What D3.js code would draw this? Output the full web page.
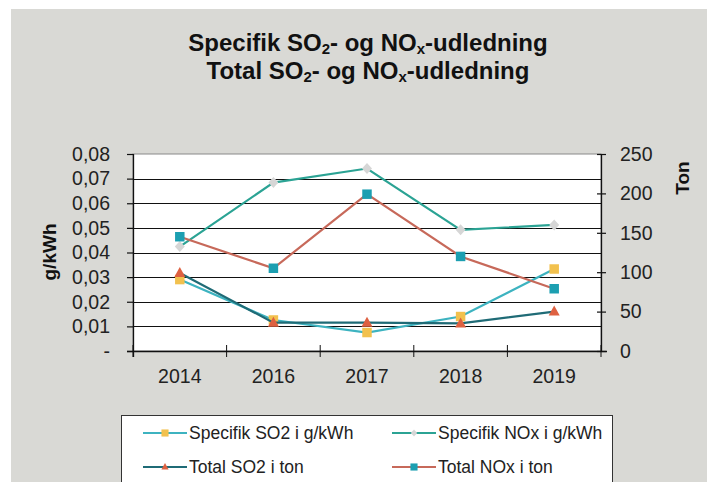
<!DOCTYPE html>
<html>
<head>
<meta charset="utf-8">
<script src="https://cdn.jsdelivr.net/npm/d3@7"></script>
<style>
  body { margin: 0; background: #fff; }
  svg { display: block; font-family: "Liberation Sans", Arial, sans-serif; }
</style>
</head>
<body>
<svg id="chart" width="707" height="482"></svg>
<script>
// chart data
const years = ['2014', '2016', '2017', '2018', '2019'];
const specSO2 = [0.029, 0.0126, 0.0075, 0.014, 0.0333];   // g/kWh
const specNOx = [0.0424, 0.0684, 0.0741, 0.0492, 0.0512]; // g/kWh
const totalSO2 = [99, 36, 36, 35, 50];                    // ton
const totalNOx = [145, 105, 199, 120, 79];                // ton
const leftTicks = [0, 0.01, 0.02, 0.03, 0.04, 0.05, 0.06, 0.07, 0.08];
const rightTicks = [0, 50, 100, 150, 200, 250];

const series = [
  { name: 'Specifik SO2 i g/kWh', values: specSO2, axis: 'left', line: '#3db3c0', marker: 'square', fill: '#f2c14e' },
  { name: 'Specifik NOx i g/kWh', values: specNOx, axis: 'left', line: '#2ba394', marker: 'diamond', fill: '#d6d6d6' },
  { name: 'Total SO2 i ton', values: totalSO2, axis: 'right', line: '#1f6b76', marker: 'triangle', fill: '#de6141' },
  { name: 'Total NOx i ton', values: totalNOx, axis: 'right', line: '#c7695a', marker: 'square', fill: '#1c9fb1' }
];

const svg = d3.select('#chart');

// grey chart area
svg.append('rect').attr('x', 11).attr('y', 9).attr('width', 707 - 11).attr('height', 482 - 9).attr('fill', '#d9d9d5');

const plot = { left: 133, right: 601, top: 154, bottom: 351 };

const x = d3.scaleBand().domain(years).range([plot.left, plot.right]).padding(0);
const yL = d3.scaleLinear().domain([0, 0.08]).range([plot.bottom, plot.top]);
const yR = d3.scaleLinear().domain([0, 250]).range([plot.bottom, plot.top]);

// title, two lines with subscripts
function titleLine(prefix, baseline) {
  const t = svg.append('text').attr('x', 368).attr('y', baseline).attr('text-anchor', 'middle')
    .attr('font-weight', 'bold').attr('font-size', 24).attr('fill', '#111');
  t.append('tspan').text(prefix + ' SO');
  t.append('tspan').attr('font-size', 15).attr('dy', 3).text('2');
  t.append('tspan').attr('dy', -3).text('- og NO');
  t.append('tspan').attr('font-size', 15).attr('dy', 3).text('x');
  t.append('tspan').attr('dy', -3).text('-udledning');
}
titleLine('Specifik', 51);
titleLine('Total', 79);

// plot area
svg.append('rect').attr('x', plot.left).attr('y', plot.top)
  .attr('width', plot.right - plot.left).attr('height', plot.bottom - plot.top)
  .attr('fill', '#fff').attr('stroke', '#8a8a8a').attr('stroke-width', 1);

// gridlines
svg.append('g').selectAll('line').data(leftTicks.filter(d => d > 0 && d < 0.08)).join('line')
  .attr('x1', plot.left).attr('x2', plot.right)
  .attr('y1', d => Math.round(yL(d)) + 0.5).attr('y2', d => Math.round(yL(d)) + 0.5)
  .attr('stroke', '#111').attr('stroke-width', 1.2);

const fmtLeft = d => d === 0 ? '-' : d3.format('.2f')(d).replace('.', ',');

// left axis
const gl = svg.append('g').attr('transform', `translate(${plot.left},0)`)
  .call(d3.axisLeft(yL).tickValues(leftTicks).tickFormat(fmtLeft).tickSizeInner(6).tickSizeOuter(0).tickPadding(17));
// right axis
const gr = svg.append('g').attr('transform', `translate(${plot.right},0)`)
  .call(d3.axisRight(yR).tickValues(rightTicks).tickSizeInner(0).tickSizeOuter(0).tickPadding(19));
gr.selectAll('.tick line').attr('x1', -4).attr('x2', 5);
// bottom axis: ticks at category boundaries
const gb = svg.append('g').attr('transform', `translate(0,${plot.bottom})`)
  .call(d3.axisBottom(x).tickSize(0).tickPadding(18));
gb.select('.domain').attr('d', `M${plot.left - 6},0.5H${plot.right + 6}`);
gb.selectAll('.bound').data(d3.range(years.length + 1)).join('line')
  .attr('x1', i => plot.left + i * x.bandwidth()).attr('x2', i => plot.left + i * x.bandwidth())
  .attr('y1', -6).attr('y2', 6).attr('stroke', '#111');
gl.select('.domain').attr('d', `M0.5,${plot.top}V${plot.bottom + 6}`);

[gl, gr, gb].forEach(g => {
  g.selectAll('.domain').attr('stroke', '#111').attr('stroke-width', 1.3);
  g.selectAll('.tick line').attr('stroke', '#111').attr('stroke-width', 1.2);
  g.selectAll('text').attr('font-size', 19.5).attr('fill', '#222').attr('font-family', '"Liberation Sans", Arial, sans-serif');
});

// axis titles
svg.append('text').attr('transform', 'translate(56,252) rotate(-90)').attr('text-anchor', 'middle')
  .attr('font-weight', 'bold').attr('font-size', 19).attr('fill', '#111').text('g/kWh');
svg.append('text').attr('transform', 'translate(689,178) rotate(-90)').attr('text-anchor', 'middle')
  .attr('font-weight', 'bold').attr('font-size', 19).attr('fill', '#111').text('Ton');

function markerPath(type) {
  if (type === 'square') return d3.symbol(d3.symbolSquare, 90)();
  if (type === 'diamond') return 'M0,-5.5L5,0L0,5.5L-5,0Z';
  return 'M0,-6L5.5,4L-5.5,4Z';
}

// series
series.forEach(s => {
  const y = s.axis === 'left' ? yL : yR;
  const line = d3.line().x((d, i) => x(years[i]) + x.bandwidth() / 2).y(d => y(d));
  svg.append('path').datum(s.values).attr('d', line).attr('fill', 'none')
    .attr('stroke', s.line).attr('stroke-width', 2.2);
  svg.append('g').selectAll('path').data(s.values).join('path')
    .attr('d', markerPath(s.marker))
    .attr('transform', (d, i) => `translate(${x(years[i]) + x.bandwidth() / 2},${y(d)})`)
    .attr('fill', s.fill);
});

// legend
svg.append('rect').attr('x', 121.5).attr('y', 415.5).attr('width', 491).attr('height', 80)
  .attr('fill', '#fff').attr('stroke', '#333').attr('stroke-width', 1);
const legendPos = [[143, 433], [392, 433], [143, 467], [392, 467]];
series.forEach((s, i) => {
  const [lx, ly] = legendPos[i];
  const g = svg.append('g').attr('transform', `translate(${lx},${ly})`);
  g.append('line').attr('x1', 0).attr('x2', 44).attr('stroke', s.line).attr('stroke-width', 2.2);
  g.append('path').attr('d', markerPath(s.marker)).attr('transform', s.marker === 'square' ? 'translate(22,0) scale(0.75)' : 'translate(22,0) scale(0.65)')
    .attr('fill', s.fill);
  g.append('text').attr('x', 46).attr('y', 6).attr('font-size', 17.5).attr('fill', '#222').text(s.name);
});
</script>
</body>
</html>
